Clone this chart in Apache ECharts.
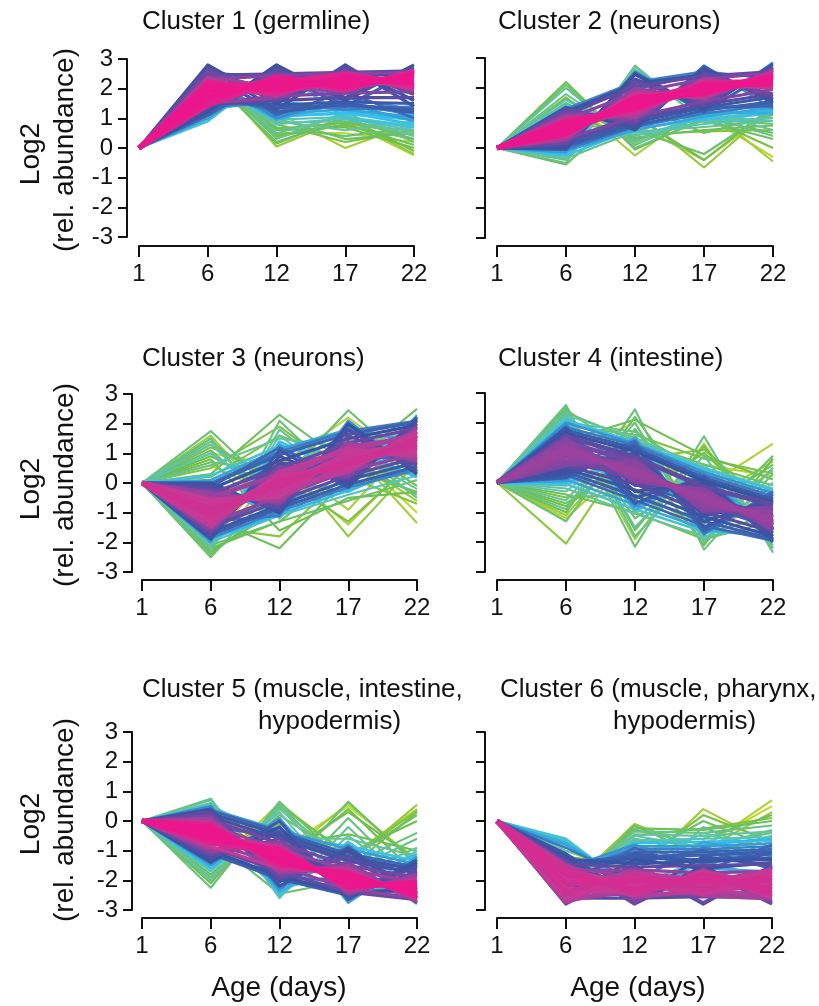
<!DOCTYPE html>
<html>
<head>
<meta charset="utf-8">
<script src="https://cdn.jsdelivr.net/npm/echarts@6/dist/echarts.min.js"></script>
<style>
  html, body { margin: 0; padding: 0; background: #ffffff; }
  #chart { width: 819px; height: 1006px; }
</style>
</head>
<body>
<div id="chart"></div>
<script>
// Sampling days (x categories) and y tick range
const days = ['1', '6', '12', '17', '22'];
const yTicks = [-3, -2, -1, 0, 1, 2, 3];

const clusterTitles = [
  ['Cluster 1 (germline)'],
  ['Cluster 2 (neurons)'],
  ['Cluster 3 (neurons)'],
  ['Cluster 4 (intestine)'],
  ['Cluster 5 (muscle, intestine,', 'hypodermis)'],
  ['Cluster 6 (muscle, pharynx,', 'hypodermis)']
];

// Each row: [membership, log2 abundance at day 1, 6, 12, 17, 22]
const cluster1 = [
  [0.98, 0, 1.9, 2.1, 2.2, 2.3], [0.97, 0, 2.1, 1.95, 2.35, 2.2], [0.97, 0, 1.7, 2.3, 2.05, 2.45],
  [0.96, 0, 2.2, 2.0, 2.4, 2.25], [0.96, 0, 1.55, 2.4, 2.1, 2.5], [0.95, 0, 2.0, 2.2, 2.5, 2.1],
  [0.95, 0, 1.45, 2.25, 2.0, 2.55], [0.94, 0, 2.25, 1.85, 2.3, 2.35], [0.93, 0, 1.8, 2.35, 1.95, 2.6],
  [0.92, 0, 2.05, 1.8, 2.45, 2.0], [0.91, 0, 1.6, 2.15, 2.25, 2.4],
  [0.88, 0, 2.35, 1.75, 2.55, 2.15], [0.87, 0, 1.4, 2.45, 2.0, 2.3], [0.86, 0, 2.4, 2.05, 1.9, 2.6],
  [0.85, 0, 1.5, 1.7, 2.55, 1.95], [0.84, 0, 2.3, 2.45, 2.5, 2.55], [0.83, 0, 1.5, 1.75, 1.85, 1.9],
  [0.82, 0, 2.55, 1.9, 2.6, 2.0], [0.81, 0, 1.4, 2.6, 1.85, 2.65], [0.80, 0, 2.65, 1.6, 2.7, 1.8],
  [0.80, 0, 2.45, 2.5, 2.55, 2.6], [0.79, 0, 1.45, 1.6, 1.7, 1.7],
  [0.78, 0, 1.3, 2.7, 1.7, 2.7], [0.77, 0, 2.8, 1.5, 2.75, 1.6], [0.76, 0, 1.2, 2.8, 1.6, 2.8],
  [0.75, 0, 2.5, 2.4, 2.5, 2.45], [0.74, 0, 2.7, 1.3, 2.8, 1.4], [0.73, 0, 1.6, 1.45, 1.55, 1.5],
  [0.72, 0, 2.5, 1.2, 1.5, 1.2], [0.71, 0, 1.7, 1.35, 1.45, 1.3], [0.70, 0, 1.1, 2.5, 1.4, 2.6],
  [0.69, 0, 2.55, 2.35, 2.45, 2.5], [0.68, 0, 2.6, 1.1, 1.9, 1.0], [0.66, 0, 1.75, 1.25, 1.4, 1.2],
  [0.65, 0, 1.4, 1.5, 1.3, 1.4],
  [0.64, 0, 2.4, 1.0, 1.7, 1.3], [0.62, 0, 1.0, 2.6, 1.5, 0.9], [0.61, 0, 1.9, 1.15, 1.3, 1.05],
  [0.60, 0, 2.3, 0.95, 1.55, 1.1], [0.59, 0, 1.3, 1.6, 1.25, 1.0], [0.58, 0, 2.2, 1.05, 1.2, 0.8],
  [0.57, 0, 2.0, 1.1, 1.15, 0.95], [0.56, 0, 0.9, 2.7, 1.0, 0.7], [0.54, 0, 2.1, 0.95, 1.05, 0.75],
  [0.53, 0, 2.3, 0.8, 1.0, 0.6], [0.51, 0, 2.5, 0.5, 1.1, 0.4], [0.50, 0, 2.1, 0.9, 0.6, 0.9],
  [0.49, 0, 2.2, 0.85, 0.9, 0.55], [0.48, 0, 2.6, 0.3, 1.2, 0.2], [0.47, 0, 2.2, 0.7, 0.4, 0.7],
  [0.46, 0, 2.4, 0.2, 1.0, 0.3], [0.45, 0, 2.0, 1.0, 0.3, 0.5], [0.44, 0, 2.7, 0.4, 0.8, 0.1],
  [0.44, 0, 2.3, 0.65, 0.85, 0.45], [0.43, 0, 2.3, 0.6, 0.7, 0.0], [0.42, 0, 2.5, 0.15, 1.05, -0.1],
  [0.41, 0, 2.1, 0.8, 0.2, 0.6], [0.40, 0, 2.4, 0.45, 0.75, 0.3],
  [0.38, 0, 2.6, 0.05, 1.0, -0.2], [0.36, 0, 2.2, 1.2, 0.0, 0.85], [0.34, 0, 2.4, 0.35, 0.9, -0.25],
  [0.32, 0, 2.35, 0.5, 0.5, 0.2]
];

const cluster2 = [
  [0.98, 0, 0.65, 1.5, 1.95, 2.25], [0.97, 0, 0.8, 1.35, 2.1, 2.15], [0.97, 0, 0.5, 1.65, 1.85, 2.4],
  [0.96, 0, 0.9, 1.3, 2.05, 2.3], [0.96, 0, 0.45, 1.7, 1.8, 2.35], [0.95, 0, 0.75, 1.55, 2.15, 2.1],
  [0.94, 0, 0.55, 1.4, 1.9, 2.45], [0.93, 0, 0.95, 1.2, 2.2, 2.2], [0.92, 0, 0.4, 1.8, 1.75, 2.5],
  [0.91, 0, 0.7, 1.25, 2.0, 2.05],
  [0.88, 0, 1.0, 1.1, 2.3, 1.95], [0.87, 0, 0.3, 1.9, 1.65, 2.55], [0.86, 0, 1.1, 1.0, 2.25, 2.0],
  [0.85, 0, 0.25, 2.0, 1.6, 2.6], [0.84, 0, 0.95, 1.85, 2.3, 2.5], [0.83, 0, 0.3, 1.05, 1.55, 1.95],
  [0.82, 0, 1.2, 0.9, 2.4, 1.8], [0.81, 0, 0.15, 2.2, 1.5, 2.65], [0.80, 0, 1.3, 0.8, 2.5, 1.7],
  [0.80, 0, 1.1, 2.05, 2.4, 2.55], [0.79, 0, 0.2, 0.95, 1.45, 1.8],
  [0.78, 0, 0.1, 2.3, 1.4, 2.7], [0.77, 0, 1.25, 0.7, 2.6, 1.6], [0.76, 0, 0.0, 2.45, 1.3, 2.8],
  [0.75, 0, 1.2, 2.15, 2.45, 2.45], [0.74, 0, 1.35, 0.6, 2.7, 1.5], [0.73, 0, 0.1, 0.85, 1.35, 1.7],
  [0.72, 0, -0.05, 2.5, 1.2, 2.6], [0.71, 0, 0.05, 0.75, 1.25, 1.55], [0.70, 0, 1.0, 0.95, 1.35, 1.4],
  [0.69, 0, 1.25, 1.95, 2.5, 2.35], [0.68, 0, 0.2, 1.15, 1.3, 1.5], [0.66, 0, -0.05, 0.7, 1.15, 1.45],
  [0.65, 0, 1.3, 2.2, 2.55, 2.3],
  [0.64, 0, 1.35, 0.65, 2.75, 1.3], [0.62, 0, -0.15, 2.55, 1.25, 2.85], [0.61, 0, -0.1, 0.6, 1.05, 1.35],
  [0.60, 0, 1.3, 0.75, 1.2, 1.15], [0.59, 0, 1.4, 0.8, 1.1, 1.25], [0.58, 0, -0.2, 1.3, 1.0, 1.6],
  [0.57, 0, -0.25, 0.65, 0.95, 1.15], [0.56, 0, 0.1, 0.95, 1.4, 1.3], [0.54, 0, 1.45, 0.5, 0.8, 1.0],
  [0.53, 0, 1.6, 0.4, 1.0, 1.2], [0.52, 0, -0.3, 2.6, 1.1, 0.9], [0.51, 0, 1.8, 0.2, 1.2, 0.6],
  [0.50, 0, -0.4, 2.7, 0.9, 1.0], [0.49, 0, 2.0, 0.1, 1.1, 0.4], [0.49, 0, -0.35, 0.55, 0.7, 0.9],
  [0.48, 0, -0.5, 2.75, 0.85, 1.2], [0.47, 0, 2.1, 0.0, 0.95, 0.8], [0.46, 0, 0.8, 0.6, -0.2, 1.3],
  [0.45, 0, 1.5, 0.3, 0.9, 0.3], [0.44, 0, -0.55, 1.5, 0.5, 1.1], [0.44, 0, 1.65, 0.35, 0.6, 0.75],
  [0.43, 0, 2.2, -0.05, 1.0, 0.5], [0.42, 0, 0.9, 1.05, -0.4, 1.4], [0.41, 0, 1.2, 0.25, 1.05, 0.0],
  [0.40, 0, 0.5, 0.45, 0.55, 0.6],
  [0.38, 0, 0.95, 1.2, -0.65, 1.35], [0.36, 0, 1.7, -0.25, 1.4, -0.45], [0.34, 0, 1.0, 0.8, -0.4, 1.25],
  [0.32, 0, 1.4, 0.15, 1.1, -0.3]
];

const cluster3 = [
  [0.92, 0, -0.9, -0.1, 0.75, 1.3], [0.92, 0, -1.1, 0.1, 0.6, 1.5], [0.91, 0, -0.7, -0.3, 0.95, 1.15],
  [0.91, 0, -1.3, 0.25, 0.5, 1.6], [0.90, 0, -0.6, -0.45, 1.05, 1.05], [0.90, 0, -1.2, 0.0, 0.9, 1.4],
  [0.89, 0, -0.8, -0.2, 0.4, 1.75], [0.89, 0, -1.45, 0.35, 1.15, 0.9], [0.88, 0, -0.55, -0.5, 0.65, 1.2],
  [0.88, 0, -1.0, 0.15, 1.2, 1.55],
  [0.86, 0, -0.4, -0.6, 1.3, 0.8], [0.86, 0, -0.5, 0.3, 1.1, 1.65], [0.85, 0, -1.55, 0.45, 0.3, 1.85],
  [0.85, 0, -1.35, -0.45, 0.4, 1.0], [0.84, 0, -0.3, -0.7, 1.4, 0.7], [0.83, 0, -1.65, 0.55, 0.2, 1.9],
  [0.81, 0, -0.35, 0.5, 1.35, 1.85], [0.80, 0, -0.2, -0.8, 1.6, 0.6], [0.80, 0, -1.5, -0.6, 0.25, 0.85],
  [0.79, 0, -1.75, 0.7, 0.1, 2.0], [0.78, 0, -0.1, -0.9, 1.8, 0.4], [0.77, 0, -1.85, 0.9, -0.05, 2.1],
  [0.76, 0, 0.0, -1.0, 2.0, 0.3], [0.76, 0, -0.2, 0.75, 1.5, 1.95], [0.74, 0, -1.9, 1.1, -0.15, 2.2],
  [0.74, 0, -1.65, -0.75, 0.1, 0.7], [0.72, 0, -0.4, 0.6, 1.0, 1.7], [0.71, 0, -1.75, -0.85, -0.05, 0.55],
  [0.70, 0, -1.5, -0.4, 0.8, 0.9], [0.70, 0, -0.05, 0.95, 1.65, 2.05], [0.68, 0, -0.15, 1.2, 0.0, 2.15],
  [0.66, 0, -1.3, -1.1, 1.9, 0.5], [0.66, 0, 0.0, 1.05, 1.75, 2.1], [0.65, 0, -1.85, -0.95, -0.15, 0.45],
  [0.63, 0, 0.05, -1.05, 2.1, 0.35], [0.61, 0, -2.0, 1.3, -0.2, 2.25], [0.61, 0, 0.1, 1.15, 1.8, 1.4],
  [0.59, 0, -0.05, -1.15, 1.2, 0.2], [0.59, 0, -1.9, -1.05, -0.25, 0.6], [0.57, 0, -1.95, 1.4, 0.3, 1.2],
  [0.56, 0, 0.25, 1.25, 0.9, 1.6], [0.55, 0, -0.25, 0.1, -0.3, 0.8], [0.54, 0, -2.0, -1.1, -0.4, 0.25],
  [0.53, 0, 1.0, -0.6, 1.5, 0.5], [0.52, 0, -2.1, 1.6, -0.1, 2.3], [0.51, 0, 1.3, -0.8, 1.1, -0.2],
  [0.50, 0, -2.2, 1.8, 0.0, 1.3], [0.50, 0, 0.6, 1.5, 1.2, 1.8], [0.49, 0, 1.5, -1.2, 1.3, -0.5],
  [0.48, 0, -2.35, 2.1, -0.1, 1.9], [0.47, 0, 1.75, -0.4, 1.0, 0.2], [0.47, 0, 1.4, -0.3, 1.4, 0.3],
  [0.46, 0, -2.5, 0.0, 2.45, 0.4], [0.46, 0, -2.1, -1.3, -0.6, 0.1], [0.45, 0, 0.3, 2.3, 0.6, 2.5],
  [0.45, 0, 1.1, -0.9, 0.8, -0.4], [0.44, 0, -1.2, -2.2, 0.2, 0.9], [0.44, 0, 0.7, 0.4, 1.7, 0.9],
  [0.43, 0, 0.8, -1.6, -0.5, -0.3], [0.43, 0, -2.2, -1.3, 0.5, 1.5], [0.42, 0, -2.3, -0.9, 1.4, -0.1],
  [0.42, 0, 0.9, -0.2, 0.5, -0.3], [0.41, 0, 1.2, 0.2, -1.3, 0.8], [0.41, 0, -2.4, -0.6, -0.2, 1.1],
  [0.40, 0, 0.5, 1.9, 0.2, -0.7], [0.40, 0, 0.2, 1.6, 0.7, 2.0], [0.39, 0, -1.5, -1.8, 0.4, 0.3],
  [0.38, 0, -1.0, 1.0, -1.8, 0.7], [0.37, 0, 1.3, 0.0, 0.9, -0.6], [0.36, 0, 1.6, -1.0, 1.2, -1.35],
  [0.35, 0, -2.0, 0.8, -0.9, 1.6], [0.34, 0, -2.2, 0.5, -1.4, 0.9], [0.33, 0, 1.0, 0.6, 2.2, 0.5],
  [0.32, 0, 0.6, -0.5, 1.2, -1.0]
];

const cluster4 = [
  [0.86, 0, 1.0, 0.4, -0.6, -1.2], [0.86, 0, 1.15, 0.25, -0.45, -1.35], [0.85, 0, 0.85, 0.55, -0.75, -1.05],
  [0.85, 0, 1.3, 0.15, -0.35, -1.45], [0.84, 0, 0.7, 0.65, -0.85, -0.95], [0.84, 0, 1.45, 0.05, -0.25, -1.55],
  [0.83, 0, 0.6, 0.75, -0.95, -0.85], [0.83, 0, 1.2, 0.45, -0.55, -1.3], [0.82, 0, 0.9, 0.1, -0.3, -1.6],
  [0.82, 0, 1.35, 0.7, -0.9, -1.0], [0.81, 0, 0.65, 0.3, -0.5, -1.15], [0.81, 0, 1.05, 0.55, -0.7, -1.4],
  [0.80, 0, 1.55, 0.85, -0.15, -0.75], [0.79, 0, 0.55, -0.05, -1.0, -1.65],
  [0.78, 0, 1.6, -0.1, -0.1, -1.7], [0.77, 0, 0.4, 0.9, -1.1, -0.7], [0.76, 0, 1.7, -0.3, 0.0, -1.8],
  [0.76, 0, 1.65, 1.05, 0.05, -0.65], [0.75, 0, 0.3, 1.0, -1.3, -0.6], [0.75, 0, 0.45, -0.25, -1.15, -1.8],
  [0.74, 0, 1.8, -0.5, 0.1, -1.9], [0.73, 0, 0.2, 1.2, -1.5, -0.5], [0.72, 0, 1.85, -0.7, 0.2, -2.0],
  [0.72, 0, 1.75, 1.15, 0.15, -0.55], [0.71, 0, 0.35, -0.45, -1.3, -1.9], [0.70, 0, 0.15, 1.3, -1.6, -0.4],
  [0.69, 0, 1.5, 0.0, -0.8, -1.5], [0.68, 0, 0.25, -0.6, -1.45, -1.95], [0.67, 0, 0.5, 1.4, -1.7, -0.3],
  [0.66, 0, 1.85, 1.25, 0.25, -0.45],
  [0.64, 0, 1.95, -0.8, 0.3, -1.95], [0.63, 0, 2.0, 1.3, 0.35, -0.35], [0.62, 0, 0.05, 1.5, -1.75, -0.35],
  [0.61, 0, 0.1, -0.75, -1.55, -1.85], [0.60, 0, 1.9, -0.9, 0.25, -1.6], [0.58, 0, 0.0, 0.8, -1.2, -0.9],
  [0.57, 0, 2.1, 1.35, 0.45, -0.25], [0.56, 0, 2.0, 0.2, -0.5, -1.7], [0.55, 0, -0.1, 1.1, -0.4, -0.5],
  [0.55, 0, -0.05, -0.9, -1.65, -1.75],
  [0.53, 0, 2.2, -1.0, 0.5, -2.1], [0.52, 0, -0.3, 1.6, -1.9, 0.0], [0.52, 0, 2.25, 1.5, 0.5, -0.2],
  [0.51, 0, 2.4, -1.5, 0.9, -2.2], [0.50, 0, -0.6, 2.0, -2.0, 0.5], [0.50, 0, -0.2, -1.05, -1.8, -1.5],
  [0.49, 0, 2.6, -1.8, 0.6, -1.8], [0.48, 0, -0.9, 2.45, -2.25, 0.3], [0.47, 0, 2.3, -2.15, 1.55, -2.35],
  [0.47, 0, 2.0, 1.7, 0.3, -0.6], [0.46, 0, -1.3, 1.8, -1.4, 0.9], [0.46, 0, 2.35, 1.4, 0.6, -0.1],
  [0.45, 0, 2.1, -1.2, 0.4, -0.8], [0.45, 0, -0.7, 0.9, -1.0, -0.2], [0.44, 0, -1.0, 2.2, -0.9, 0.6],
  [0.44, 0, -0.4, -1.0, -1.9, -1.3], [0.43, 0, 2.5, -1.6, 1.2, -1.4], [0.43, 0, 1.4, 2.1, 0.9, 0.1],
  [0.42, 0, -0.8, 1.0, -2.1, 0.8], [0.41, 0, 1.7, -0.6, 1.0, -1.2], [0.41, 0, -0.5, -0.4, -1.7, -1.1],
  [0.40, 0, 1.9, 1.6, 0.8, 0.3], [0.39, 0, 2.45, 0.8, 1.1, -0.9],
  [0.38, 0, -2.05, 1.4, -1.2, 0.4], [0.37, 0, -1.1, 1.5, -0.6, 0.7], [0.36, 0, 2.25, -1.9, 1.3, -2.2],
  [0.35, 0, 1.6, -0.3, -1.5, -0.8], [0.34, 0, -1.2, 0.9, -0.2, 1.3], [0.33, 0, 0.3, 0.2, 0.6, 0.2],
  [0.32, 0, 1.0, 2.0, -1.6, -0.3]
];

const cluster5 = [
  [0.98, 0, -0.4, -1.2, -2.0, -2.3], [0.97, 0, -0.25, -1.35, -1.85, -2.45], [0.97, 0, -0.55, -1.05, -2.15, -2.15],
  [0.96, 0, -0.15, -1.45, -1.75, -2.55], [0.96, 0, -0.65, -0.95, -2.25, -2.05], [0.95, 0, -0.3, -1.25, -1.95, -2.35],
  [0.94, 0, -0.75, -1.1, -2.1, -2.2], [0.93, 0, -0.1, -1.55, -1.7, -2.6], [0.92, 0, -0.5, -0.9, -2.3, -2.0],
  [0.91, 0, -0.85, -1.6, -1.8, -2.4],
  [0.88, 0, 0.0, -1.65, -1.6, -2.65], [0.87, 0, -0.95, -0.8, -2.4, -1.9], [0.86, 0, 0.1, -1.75, -1.5, -2.7],
  [0.86, 0, -0.15, -0.95, -1.65, -2.05], [0.85, 0, -1.05, -0.7, -2.45, -1.8], [0.85, 0, -0.7, -1.5, -2.3, -2.6],
  [0.82, 0, 0.2, -1.85, -1.4, -2.75], [0.82, 0, 0.05, -0.75, -1.5, -1.9], [0.81, 0, -1.15, -0.6, -2.5, -1.7],
  [0.81, 0, -0.9, -1.7, -2.4, -2.65], [0.80, 0, 0.3, -1.95, -1.2, -2.6], [0.78, 0, -1.25, -0.4, -2.55, -1.5],
  [0.78, 0, 0.15, -0.6, -1.35, -1.75], [0.77, 0, 0.4, -2.05, -1.0, -2.5], [0.76, 0, -1.35, -0.2, -2.6, -1.4],
  [0.76, 0, -1.0, -1.85, -2.45, -2.3], [0.74, 0, 0.35, -2.2, -0.9, -2.45], [0.74, 0, 0.25, -0.45, -1.2, -1.65],
  [0.72, 0, -1.4, 0.0, -2.65, -1.3], [0.71, 0, -1.1, -1.95, -2.5, -2.2], [0.70, 0, -0.2, -0.5, -1.3, -1.6],
  [0.69, 0, 0.35, -0.35, -1.1, -1.55], [0.68, 0, -1.0, -1.9, -2.0, -1.9], [0.66, 0, -1.0, -2.0, -2.2, -2.5],
  [0.64, 0, 0.5, -2.3, -0.8, -2.75], [0.62, 0, -1.5, 0.1, -2.75, -1.2], [0.62, 0, 0.4, -0.3, -0.95, -1.45],
  [0.60, 0, 0.45, -2.4, -1.0, -2.8], [0.60, 0, -0.6, -2.15, -1.9, -2.6], [0.58, 0, -1.6, 0.05, -2.2, -1.1],
  [0.57, 0, 0.45, -0.5, -0.85, -1.35], [0.56, 0, 0.55, -2.5, -0.7, -2.3], [0.54, 0, -0.4, -2.3, -1.7, -2.45],
  [0.53, 0, -1.7, 0.3, -2.4, -1.0], [0.52, 0, 0.6, -2.55, -0.5, -2.2], [0.51, 0, -1.9, 0.45, -1.9, -0.9],
  [0.50, 0, 0.7, -2.6, -0.2, -2.4], [0.50, 0, 0.5, -0.6, -0.6, -1.2], [0.49, 0, -2.0, 0.55, -1.7, -0.6],
  [0.48, 0, 0.75, -2.3, 0.1, -2.2], [0.47, 0, -2.25, 0.65, -1.5, -0.4], [0.46, 0, 0.3, -1.9, 0.65, -1.5],
  [0.46, 0, -0.6, -2.45, -2.0, -2.6], [0.45, 0, -1.8, 0.2, -1.3, 0.2], [0.44, 0, 0.4, -1.5, 0.4, -1.8],
  [0.43, 0, -2.1, 0.5, -1.1, 0.0], [0.42, 0, 0.6, -1.2, 0.3, -1.3], [0.42, 0, 0.55, -0.8, -0.45, -1.0],
  [0.41, 0, -1.2, -0.1, -1.6, 0.3], [0.40, 0, -1.0, -0.3, -1.3, 0.35],
  [0.38, 0, -1.9, 0.4, -1.4, 0.55], [0.36, 0, 0.5, -1.3, 0.6, -1.4], [0.34, 0, -1.6, 0.6, -1.2, 0.4],
  [0.32, 0, 0.2, -1.0, 0.5, -1.3]
];

const cluster6 = [
  [0.93, 0, -2.1, -2.0, -2.05, -2.0], [0.93, 0, -1.8, -2.3, -1.8, -2.3], [0.92, 0, -2.4, -1.8, -2.3, -1.8],
  [0.92, 0, -1.6, -2.45, -1.9, -2.45], [0.91, 0, -2.6, -1.9, -2.2, -1.7], [0.91, 0, -1.95, -2.15, -2.4, -2.1],
  [0.90, 0, -2.3, -2.4, -1.75, -2.55], [0.90, 0, -1.7, -2.1, -2.45, -1.9], [0.89, 0, -2.5, -1.75, -2.0, -2.35],
  [0.89, 0, -2.0, -2.5, -1.7, -2.2], [0.88, 0, -2.7, -2.2, -2.1, -1.65], [0.88, 0, -1.5, -2.55, -2.35, -2.5],
  [0.87, 0, -2.2, -1.7, -2.5, -2.6], [0.87, 0, -2.65, -2.35, -1.85, -2.05],
  [0.86, 0, -1.55, -1.9, -1.95, -1.85], [0.86, 0, -2.45, -2.2, -2.2, -2.3], [0.85, 0, -1.7, -1.65, -1.75, -1.7],
  [0.84, 0, -2.75, -1.65, -2.55, -1.6], [0.84, 0, -2.55, -2.45, -2.5, -2.45], [0.83, 0, -1.45, -2.7, -1.6, -2.7],
  [0.82, 0, -2.8, -1.6, -2.75, -1.55], [0.81, 0, -1.35, -2.8, -1.65, -2.8],
  [0.80, 0, -1.45, -1.55, -1.5, -1.45], [0.79, 0, -2.6, -2.6, -2.55, -2.6],
  [0.78, 0, -2.35, -1.5, -2.8, -1.5], [0.77, 0, -1.2, -2.75, -1.5, -2.75], [0.76, 0, -2.5, -1.3, -1.6, -1.4],
  [0.75, 0, -1.3, -1.45, -1.35, -1.3], [0.74, 0, -1.1, -2.6, -1.2, -1.5], [0.73, 0, -1.55, -1.25, -1.3, -1.25],
  [0.72, 0, -2.0, -1.1, -1.4, -1.1], [0.71, 0, -1.4, -1.2, -1.15, -1.05], [0.70, 0, -1.3, -1.4, -1.0, -1.6],
  [0.69, 0, -1.6, -1.05, -1.05, -0.95], [0.68, 0, -2.2, -0.9, -1.7, -0.8], [0.66, 0, -0.9, -2.0, -0.9, -1.3],
  [0.65, 0, -1.7, -0.95, -0.95, -0.85],
  [0.63, 0, -1.6, -0.8, -1.5, -0.9], [0.62, 0, -1.8, -0.85, -0.85, -0.75], [0.61, 0, -0.8, -2.1, -0.7, -1.2],
  [0.60, 0, -0.75, -2.2, -1.6, -1.7], [0.59, 0, -2.3, -1.0, -0.8, -0.6], [0.58, 0, -1.9, -0.75, -0.7, -0.65],
  [0.57, 0, -0.7, -2.2, -1.3, -1.0], [0.55, 0, -0.6, -2.35, -1.4, -1.9], [0.54, 0, -2.0, -0.65, -0.6, -0.55],
  [0.53, 0, -2.2, -0.6, -1.1, -0.5], [0.52, 0, -1.0, -1.7, -0.4, -1.0], [0.51, 0, -2.1, -0.45, -0.5, -0.35],
  [0.50, 0, -2.0, -0.5, -0.9, -0.3], [0.49, 0, -0.65, -2.3, -0.2, -1.2], [0.48, 0, -2.2, -0.35, -0.4, -0.15],
  [0.47, 0, -2.4, -0.3, -0.8, -0.4], [0.46, 0, -1.4, -1.3, 0.0, -0.9], [0.45, 0, -2.3, -0.25, -0.3, 0.0],
  [0.44, 0, -1.9, -0.7, -0.6, 0.2], [0.43, 0, -2.5, -0.15, -1.2, -0.5], [0.41, 0, -1.2, -1.5, 0.2, -0.7],
  [0.40, 0, -2.1, -0.5, -0.25, 0.1],
  [0.38, 0, -2.3, -0.1, -1.0, 0.3], [0.36, 0, -1.0, -1.8, 0.4, -0.8], [0.34, 0, -1.8, -0.6, -0.9, 0.7],
  [0.32, 0, -1.6, -0.9, -0.8, 0.5]
];

const clusters = [cluster1, cluster2, cluster3, cluster4, cluster5, cluster6];

// Membership colour ramp: low (yellow-green) -> green -> cyan -> blue -> purple -> pink (high)
const rampStops = [
  [0.30, [206, 222, 40]],
  [0.42, [112, 190, 68]],
  [0.52, [98, 196, 170]],
  [0.58, [52, 192, 236]],
  [0.68, [62, 104, 182]],
  [0.76, [58, 82, 162]],
  [0.83, [124, 70, 164]],
  [0.90, [196, 60, 150]],
  [0.97, [236, 22, 140]]
];
function membershipColor(m) {
  if (m <= rampStops[0][0]) return 'rgb(' + rampStops[0][1].join(',') + ')';
  for (let i = 0; i < rampStops.length - 1; i++) {
    const a = rampStops[i], b = rampStops[i + 1];
    if (m <= b[0]) {
      const t = (m - a[0]) / (b[0] - a[0]);
      const c = a[1].map((v, j) => Math.round(v + t * (b[1][j] - v)));
      return 'rgb(' + c.join(',') + ')';
    }
  }
  return 'rgb(' + rampStops[rampStops.length - 1][1].join(',') + ')';
}
// Core profiles (closest to each cluster's best membership) are drawn heavier
// so the dense centre reads as a band
function membershipWidth(m, best) {
  if (m >= best - 0.065) return 4.8;
  if (m >= 0.7) return 3.2;
  if (m >= 0.55) return 2.6;
  return 2.1;
}

const FONT = '"Liberation Sans", Arial, Helvetica, sans-serif';
const INK = '#111111';

// Panel geometry: [left, top, width, height, yAxisOffset, xAxisOffset]
const panels = [
  [139, 59, 275, 178, 12, 9],
  [497, 58, 276, 180, 12, 8],
  [142, 394, 275, 178, 10, 8],
  [497, 393, 276, 179, 12, 8],
  [142, 732, 275, 178, 10, 8],
  [497, 732, 275, 178, 12, 8]
];

const grids = [], xAxes = [], yAxes = [], series = [];
panels.forEach((p, k) => {
  grids.push({ left: p[0], top: p[1], width: p[2], height: p[3], containLabel: false });
  xAxes.push({
    type: 'category', gridIndex: k, data: days, boundaryGap: false, offset: p[5], position: 'bottom',
    axisLine: { onZero: false, lineStyle: { color: INK, width: 2 } },
    axisTick: { show: true, length: 11, lineStyle: { color: INK, width: 2 }, interval: 0 },
    axisLabel: { interval: 0, margin: 16, fontSize: 24, color: INK, fontFamily: FONT },
    splitLine: { show: false }
  });
  yAxes.push({
    type: 'value', gridIndex: k, min: yTicks[0], max: yTicks[yTicks.length - 1], interval: 1,
    offset: p[4],
    axisLine: { show: true, onZero: false, lineStyle: { color: INK, width: 2 } },
    axisTick: { show: true, length: 9, lineStyle: { color: INK, width: 2 } },
    axisLabel: { show: k % 2 === 0, margin: 14, fontSize: 24, color: INK, fontFamily: FONT },
    splitLine: { show: false }
  });
  const rows = clusters[k].slice().sort((a, b) => a[0] - b[0]);
  const best = rows[rows.length - 1][0];
  // draw low-membership profiles first so the core ends up on top
  rows.forEach(row => {
    series.push({
      type: 'line', xAxisIndex: k, yAxisIndex: k, data: row.slice(1),
      symbol: 'none', silent: true, animation: false,
      lineStyle: { width: membershipWidth(row[0], best), color: membershipColor(row[0]), join: 'round' }
    });
  });
});

// Panel titles
const titlePos = [[142, 9], [498, 9], [142, 346], [498, 346], [142, 677], [500, 677]];
const secondLinePos = [null, null, null, null, [258, 709], [613, 709]];
const titleStyle = { fontSize: 26, fontWeight: 'normal', color: INK, fontFamily: FONT };
const titles = [];
clusterTitles.forEach((t, k) => {
  titles.push({ text: t[0], left: titlePos[k][0], top: titlePos[k][1], padding: 0, textStyle: titleStyle });
  if (t[1]) titles.push({ text: t[1], left: secondLinePos[k][0], top: secondLinePos[k][1], padding: 0, textStyle: titleStyle });
});

// Axis names
const graphics = [];
[150, 485, 820].forEach(cy => {
  graphics.push({ type: 'text', x: 31, y: cy + 4, rotation: Math.PI / 2,
    style: { text: 'Log2', font: '28px ' + FONT, fill: INK, textAlign: 'center', textVerticalAlign: 'middle' } });
  graphics.push({ type: 'text', x: 65, y: cy, rotation: Math.PI / 2,
    style: { text: '(rel. abundance)', font: '28px ' + FONT, fill: INK, textAlign: 'center', textVerticalAlign: 'middle' } });
});
[279, 638].forEach(cx => {
  graphics.push({ type: 'text', x: cx, y: 988,
    style: { text: 'Age (days)', font: '28px ' + FONT, fill: INK, textAlign: 'center', textVerticalAlign: 'middle' } });
});

const chart = echarts.init(document.getElementById('chart'), null, { renderer: 'canvas' });
chart.setOption({
  backgroundColor: '#ffffff',
  animation: false,
  title: titles,
  grid: grids,
  xAxis: xAxes,
  yAxis: yAxes,
  series: series,
  graphic: graphics
});
</script>
</body>
</html>
